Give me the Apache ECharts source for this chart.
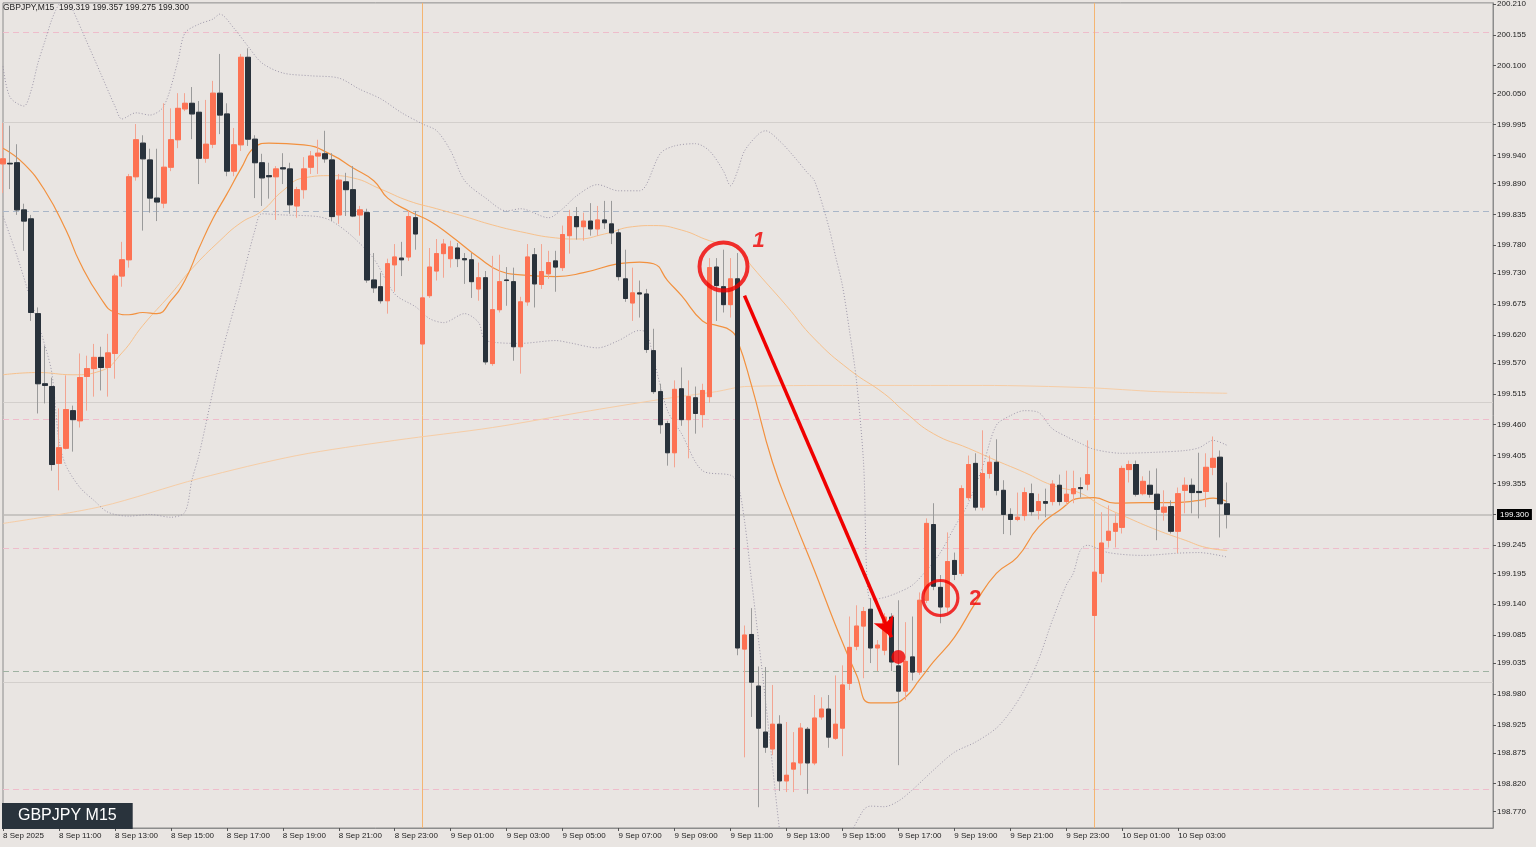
<!DOCTYPE html>
<html><head><meta charset="utf-8">
<script src="https://cdn.jsdelivr.net/npm/echarts@6/dist/echarts.min.js"></script>
<style>html,body{margin:0;padding:0;background:#e9e5e2;}#c{width:1536px;height:847px;}</style>
</head><body><div id="c"></div>
<script>
const symbolName = 'GBPJPY';
const timeframe = 'M15';
const totalSlots = 214; // bars incl. empty right-hand shift area

const opens = [199.925,199.926,199.927,199.843,199.827,199.658,199.533,199.528,199.391,199.418,
199.485,199.467,199.546,199.560,199.580,199.562,199.587,199.725,199.754,199.902,
199.962,199.932,199.864,199.855,199.919,199.968,200.023,200.033,200.017,199.935,
199.960,200.051,200.014,199.912,199.959,200.115,199.969,199.927,199.904,199.902,
199.918,199.916,199.850,199.879,199.919,199.939,199.943,199.932,199.834,199.893,
199.879,199.834,199.838,199.718,199.706,199.681,199.745,199.757,199.759,199.829,
199.604,199.690,199.734,199.765,199.756,199.775,199.756,199.754,199.702,199.722,
199.569,199.665,199.718,199.715,199.599,199.679,199.763,199.710,199.729,199.752,
199.740,199.797,199.831,199.813,199.823,199.809,199.825,199.818,199.802,199.720,
199.677,199.695,199.693,199.592,199.519,199.462,199.410,199.524,199.469,199.508,
199.478,199.510,199.741,199.706,199.674,199.720,199.060,199.086,198.994,198.912,
198.882,198.926,198.825,198.846,198.857,198.917,198.857,198.939,198.953,198.901,
198.919,198.999,199.065,199.101,199.131,199.062,199.058,199.117,199.030,198.985,
199.046,199.019,199.147,199.282,199.170,199.135,199.218,199.195,199.330,199.391,
199.313,199.373,199.393,199.343,199.300,199.291,199.298,199.337,199.307,199.323,
199.323,199.352,199.323,199.337,199.348,199.354,199.120,199.195,199.254,199.270,
199.277,199.380,199.389,199.337,199.352,199.336,199.304,199.314,199.270,199.343,
199.352,199.341,199.341,199.384,199.402,199.319];
const highs = [199.998,199.993,199.960,199.854,199.834,199.669,199.601,199.544,199.489,199.548,
199.494,199.587,199.583,199.604,199.599,199.622,199.729,199.786,199.907,199.996,
199.976,199.952,199.952,200.033,200.024,200.051,200.051,200.062,200.037,200.039,
200.073,200.121,200.033,199.989,200.121,200.131,199.976,199.943,199.927,199.921,
199.944,199.927,199.884,199.937,199.948,199.968,199.984,199.944,199.907,199.909,
199.921,199.850,199.845,199.766,199.731,199.756,199.782,199.786,199.841,199.841,
199.692,199.775,199.791,199.791,199.788,199.784,199.766,199.766,199.749,199.734,
199.761,199.763,199.741,199.740,199.688,199.782,199.775,199.782,199.770,199.770,
199.815,199.843,199.848,199.838,199.855,199.850,199.859,199.859,199.809,199.772,
199.740,199.717,199.702,199.631,199.533,199.467,199.539,199.562,199.539,199.528,
199.533,199.757,199.757,199.772,199.757,199.766,199.102,199.133,199.029,199.028,
198.996,198.942,198.930,198.912,198.928,198.921,198.978,198.974,198.978,199.013,
199.031,199.118,199.138,199.135,199.151,199.076,199.124,199.124,199.147,199.108,
199.118,199.161,199.293,199.320,199.192,199.268,199.232,199.352,199.405,199.409,
199.450,199.405,199.434,199.361,199.311,199.339,199.348,199.355,199.337,199.346,
199.361,199.371,199.378,199.378,199.366,199.432,199.236,199.304,199.316,199.302,
199.387,199.396,199.396,199.368,199.378,199.382,199.343,199.325,199.348,199.366,
199.364,199.410,199.409,199.439,199.414,199.357];
const lows = [199.873,199.880,199.834,199.770,199.645,199.480,199.498,199.378,199.343,199.416,
199.412,199.455,199.485,199.510,199.521,199.510,199.542,199.706,199.740,199.895,
199.806,199.838,199.823,199.846,199.912,199.953,200.019,199.969,199.889,199.927,
199.953,199.978,199.903,199.903,199.948,199.957,199.864,199.850,199.863,199.825,
199.889,199.836,199.829,199.863,199.907,199.907,199.927,199.823,199.818,199.832,
199.830,199.797,199.713,199.695,199.676,199.658,199.697,199.725,199.752,199.772,
199.601,199.686,199.717,199.722,199.740,199.741,199.711,199.686,199.681,199.567,
199.565,199.660,199.672,199.574,199.551,199.672,199.669,199.702,199.720,199.697,
199.734,199.765,199.790,199.788,199.797,199.797,199.809,199.782,199.717,199.679,
199.645,199.651,199.588,199.515,199.444,199.387,199.384,199.458,199.400,199.444,
199.455,199.499,199.645,199.660,199.651,199.049,198.867,198.939,198.778,198.875,
198.871,198.807,198.805,198.805,198.835,198.802,198.853,198.934,198.884,198.898,
198.869,198.987,199.058,199.008,199.035,199.021,199.049,199.021,198.853,198.969,
199.004,199.014,199.142,199.165,199.106,199.126,199.183,199.190,199.325,199.307,
199.307,199.364,199.334,199.265,199.263,199.288,199.289,199.298,199.291,199.295,
199.316,199.316,199.316,199.320,199.330,199.343,199.076,199.179,199.241,199.241,
199.266,199.357,199.332,199.334,199.330,199.254,199.289,199.266,199.231,199.302,
199.302,199.293,199.313,199.370,199.259,199.275];
const closes = [199.934,199.925,199.843,199.823,199.660,199.533,199.530,199.389,199.419,199.487,
199.469,199.544,199.560,199.580,199.562,199.588,199.725,199.754,199.902,199.968,
199.934,199.864,199.857,199.919,199.968,200.024,200.033,200.014,199.935,199.960,
200.051,200.012,199.912,199.959,200.115,199.969,199.927,199.900,199.902,199.916,
199.916,199.852,199.879,199.916,199.939,199.944,199.934,199.831,199.896,199.879,
199.832,199.843,199.718,199.704,199.681,199.747,199.759,199.754,199.831,199.800,
199.686,199.741,199.765,199.782,199.777,199.756,199.754,199.715,199.722,199.572,
199.665,199.715,199.717,199.599,199.679,199.759,199.711,199.733,199.749,199.741,
199.799,199.831,199.813,199.823,199.809,199.825,199.820,199.802,199.724,199.685,
199.695,199.693,199.594,199.519,199.460,199.410,199.523,199.469,199.510,199.480,
199.521,199.740,199.708,199.674,199.720,199.062,199.085,199.001,198.919,198.885,
198.926,198.825,198.835,198.857,198.919,198.857,198.937,198.953,198.903,198.926,
198.996,199.063,199.101,199.127,199.062,199.067,199.117,199.037,198.985,199.038,
199.019,199.147,199.284,199.172,199.135,199.216,199.193,199.346,199.389,199.313,
199.373,199.393,199.343,199.300,199.291,199.295,199.339,199.305,199.323,199.320,
199.354,199.323,199.336,199.346,199.346,199.371,199.197,199.249,199.270,199.284,
199.382,199.389,199.336,199.359,199.336,199.309,199.313,199.270,199.337,199.352,
199.339,199.339,199.384,199.400,199.319,199.300];

// indicator lines: [bar index, price]
const maFast = [[0,199.953],[3,199.925],[6,199.877],[9,199.807],[11,199.749],[14,199.685],[16,199.660],[18,199.656],[20,199.660],[22,199.658],[24,199.681],[26,199.717],[28,199.774],[30,199.827],[32,199.871],[34,199.916],[36,199.955],[38,199.962],[43,199.959],[47,199.941],[50,199.918],[53,199.895],[55,199.864],[58,199.841],[61,199.823],[64,199.797],[68,199.758],[71,199.734],[74,199.727],[79,199.724],[83,199.731],[88,199.747],[91,199.750],[93,199.747],[95,199.717],[97,199.690],[100,199.645],[102,199.637],[104,199.628],[105,199.610],[107,199.530],[110,199.393],[113,199.293],[116,199.200],[119,199.103],[122,199.014],[124,198.964],[127,198.964],[129,198.974],[131,199.005],[133,199.037],[136,199.081],[139,199.142],[142,199.195],[145,199.224],[148,199.277],[151,199.307],[154,199.329],[156,199.330],[159,199.320],[163,199.321],[167,199.321],[171,199.325],[173,199.329],[175,199.323]];
const maSlow = [[0,199.549],[5,199.553],[10,199.549],[14,199.556],[17,199.588],[20,199.637],[24,199.693],[27,199.738],[31,199.788],[34,199.820],[37,199.841],[40,199.877],[43,199.900],[47,199.904],[50,199.900],[54,199.880],[58,199.859],[62,199.845],[66,199.831],[70,199.816],[74,199.804],[79,199.793],[82,199.791],[86,199.800],[90,199.813],[93,199.815],[97,199.807],[101,199.788],[105,199.774],[107,199.743],[112,199.672],[116,199.613],[121,199.558],[126,199.515],[129,199.482],[133,199.444],[138,199.418],[142,199.396],[146,199.375],[150,199.352],[154,199.338],[157,199.316],[161,199.293],[165,199.272],[169,199.254],[172,199.241],[175,199.236]];
const maLong = [[0,199.284],[14,199.314],[28,199.364],[42,199.405],[56,199.432],[70,199.455],[84,199.485],[95,199.507],[102,199.519],[106,199.528],[120,199.530],[140,199.530],[155,199.526],[165,199.519],[175,199.516]];
const bbUpper = [[0,200.099],[1,200.044],[3,200.028],[4,200.055],[5,200.105],[6,200.144],[7,200.183],[8,200.210],[9,200.226],[10,200.199],[12,200.142],[14,200.085],[16,200.028],[17,200.005],[19,200.016],[21,200.012],[23,200.028],[25,200.108],[26,200.158],[28,200.174],[30,200.183],[31,200.192],[33,200.167],[35,200.135],[37,200.105],[40,200.087],[44,200.082],[48,200.078],[51,200.058],[54,200.041],[57,200.016],[60,199.996],[62,199.984],[64,199.948],[66,199.895],[69,199.864],[72,199.841],[74,199.845],[78,199.829],[80,199.845],[82,199.868],[85,199.888],[88,199.877],[91,199.877],[94,199.944],[96,199.957],[99,199.961],[101,199.948],[103,199.912],[104,199.886],[105,199.912],[106,199.948],[108,199.978],[109,199.984],[111,199.966],[113,199.939],[115,199.909],[116,199.895],[118,199.815],[119,199.761],[120,199.708],[121,199.628],[122,199.539],[123,199.396],[124,199.147],[126,199.152],[128,199.161],[130,199.174],[132,199.200],[134,199.232],[136,199.277],[138,199.320],[140,199.384],[142,199.459],[144,199.476],[146,199.485],[148,199.482],[150,199.453],[152,199.439],[154,199.427],[156,199.416],[160,199.409],[165,199.411],[169,199.414],[171,199.419],[173,199.432],[175,199.423]];
const bbLower = [[0,199.832],[2,199.761],[4,199.681],[6,199.601],[7,199.551],[8,199.432],[9,199.387],[11,199.348],[13,199.325],[15,199.304],[18,199.297],[21,199.300],[24,199.295],[26,199.304],[27,199.361],[28,199.405],[31,199.574],[34,199.711],[36,199.806],[37,199.836],[40,199.834],[45,199.831],[47,199.823],[50,199.795],[53,199.756],[56,199.693],[59,199.670],[61,199.649],[63,199.642],[66,199.658],[68,199.642],[69,199.610],[74,199.605],[79,199.610],[81,199.606],[85,199.597],[88,199.610],[91,199.628],[92,199.624],[93,199.578],[95,199.485],[97,199.444],[100,199.378],[104,199.370],[105,199.357],[106,199.289],[107,199.183],[109,198.969],[111,198.738],[112,198.649],[115,198.613],[117,198.631],[120,198.702],[123,198.773],[124,198.780],[126,198.779],[128,198.789],[130,198.809],[133,198.844],[136,198.876],[139,198.894],[142,198.919],[144,198.948],[146,198.987],[148,199.040],[150,199.111],[152,199.174],[153,199.195],[154,199.236],[155,199.245],[158,199.232],[163,199.227],[168,199.231],[171,199.232],[175,199.224]];

const xTickLabels = ['8 Sep 2025','8 Sep 11:00','8 Sep 13:00','8 Sep 15:00','8 Sep 17:00','8 Sep 19:00','8 Sep 21:00','8 Sep 23:00','9 Sep 01:00','9 Sep 03:00','9 Sep 05:00','9 Sep 07:00','9 Sep 09:00','9 Sep 11:00','9 Sep 13:00','9 Sep 15:00','9 Sep 17:00','9 Sep 19:00','9 Sep 21:00','9 Sep 23:00','10 Sep 01:00','10 Sep 03:00'];
const yTickLabels = [200.210,200.155,200.100,200.050,199.995,199.940,199.890,199.835,199.780,199.730,199.675,199.620,199.570,199.515,199.460,199.405,199.355,199.300,199.245,199.195,199.140,199.085,199.035,198.980,198.925,198.875,198.820,198.770];
const yMin = 198.741, yMax = 200.212;

const pinkLevels = [200.163, 199.465, 199.241, 198.811];
const blueLevels = [199.840];
const greenLevels = [199.017];
const grayLevels = [200.000, 199.500, 199.000];
const daySeparatorBars = [60, 156];

const circleMarks = [[103, 199.742], [134, 199.151]];
const label1 = [108, 199.788], label2 = [139, 199.149];
const arrowFrom = [106, 199.690], arrowTo = [127, 199.081];
const dotMark = [128, 199.046];

// ---- build
const categories = Array.from({length: totalSlots}, (_, i) => String(i));
const n = closes.length;
const lastClose = closes[n - 1];
const fullOHLC = opens.map((o, i) => [o, closes[i], lows[i], highs[i]]);
const bodyOHLC = opens.map((o, i) => [o, closes[i], Math.min(o, closes[i]), Math.max(o, closes[i])]);

const hl = (vals, color, type, width) => vals.map(v => ({yAxis: v, lineStyle: {color, type, width}}));
const lineData = [].concat(
  hl(pinkLevels, '#efbccb', [6, 4], 1.2),
  hl(blueLevels, '#a9b6c8', [6, 4], 1.2),
  hl(greenLevels, '#9fb2a2', [6, 4], 1.2),
  hl(grayLevels, '#d3cfcc', 'solid', 1.2),
  [{yAxis: lastClose, lineStyle: {color: '#bdbab7', type: 'solid', width: 1.5}}],
  daySeparatorBars.map(b => ({xAxis: b, lineStyle: {color: '#f4b572', type: 'solid', width: 1}}))
);

const FONT = 'Liberation Sans';
const chart = echarts.init(document.getElementById('c'), null, {renderer: 'canvas'});
const lineSeries = (data, color, width, type, smooth, z) => ({
  type: 'line', data, symbol: 'none', smooth, silent: true, z,
  lineStyle: {color, width, type}
});
const numberSeries = (pt, txt, style) => ({
  type: 'scatter', silent: true, z: 7, symbolSize: 1, data: [pt],
  itemStyle: {color: 'rgba(0,0,0,0)'},
  label: {show: true, position: 'inside', formatter: txt, color: '#f00000',
    fontFamily: FONT, fontSize: 22, fontWeight: 'bold', fontStyle: style}
});

chart.setOption({
  animation: false,
  backgroundColor: '#e9e5e2',
  title: [
    {text: symbolName + ',' + timeframe + '  ' + [opens[n-1], highs[n-1], lows[n-1], closes[n-1]].map(v => v.toFixed(3)).join(' '),
     left: 3, top: 3, padding: 0, textStyle: {fontFamily: FONT, fontSize: 8.5, fontWeight: 'normal', color: '#222'}},
    {text: symbolName + ' ' + timeframe, left: 2, top: 803, padding: [4, 16, 4, 16], backgroundColor: '#29333c',
     textStyle: {fontFamily: FONT, fontSize: 16, lineHeight: 18, fontWeight: 'normal', color: '#ffffff'}}
  ],
  grid: {left: 1, right: 43, top: 2, bottom: 19, show: true, borderColor: '#8c8c8c', borderWidth: 1, backgroundColor: 'transparent'},
  xAxis: {
    type: 'category', data: categories, boundaryGap: false,
    axisLine: {lineStyle: {color: '#8c8c8c', width: 1}},
    axisTick: {show: true, length: 3, lineStyle: {color: '#555'},
      interval: (i) => i % 8 === 0 && i / 8 < xTickLabels.length},
    axisLabel: {
      interval: (i) => i % 8 === 0 && i / 8 < xTickLabels.length,
      formatter: (v, i) => (i % 8 === 0 && xTickLabels[i / 8]) ? xTickLabels[i / 8] : '',
      align: 'left', margin: 4, fontFamily: FONT, fontSize: 8, color: '#222'
    },
    splitLine: {show: false}
  },
  yAxis: {
    type: 'value', position: 'right', min: yMin, max: yMax, scale: true,
    axisLine: {show: true, lineStyle: {color: '#8c8c8c', width: 1}},
    axisTick: {show: true, length: 3, customValues: yTickLabels, lineStyle: {color: '#555'}},
    axisLabel: {
      customValues: yTickLabels, margin: 4, fontFamily: FONT, fontSize: 8, color: '#222',
      formatter: (v) => Math.abs(v - lastClose) < 1e-6 ? '{cur|' + v.toFixed(3) + '}' : v.toFixed(3),
      rich: {cur: {backgroundColor: '#000', color: '#fff', padding: [2, 3, 1, 3], fontFamily: FONT, fontSize: 8}}
    },
    splitLine: {show: false}
  },
  series: [
    {
      type: 'candlestick', name: 'wicks', data: fullOHLC, barWidth: 5, silent: true, z: 3,
      itemStyle: {color: 'rgba(0,0,0,0)', color0: 'rgba(0,0,0,0)', borderColor: '#f3a592', borderColor0: '#9a9a9a', borderWidth: 1},
      markLine: {silent: true, symbol: 'none', label: {show: false}, animation: false, z: 1, data: lineData}
    },
    {
      type: 'candlestick', name: 'bodies', data: bodyOHLC, barWidth: 5, silent: true, z: 4,
      itemStyle: {color: '#fd7253', color0: '#29323b', borderColor: '#fd7253', borderColor0: '#29323b', borderWidth: 1}
    },
    lineSeries(maLong, '#f6cda6', 1, 'solid', 0.3, 2),
    lineSeries(maSlow, '#f7c18c', 1, 'solid', true, 2),
    lineSeries(maFast, '#f2913f', 1.2, 'solid', true, 2),
    lineSeries(bbUpper, '#9d97a9', 1, [1, 2], 0.3, 2),
    lineSeries(bbLower, '#9d97a9', 1, [1, 2], 0.3, 2),
    {
      type: 'line', data: [], silent: true, z: 6,
      markLine: {silent: true, symbol: ['none', 'arrow'], symbolSize: [16, 20], label: {show: false}, animation: false,
        lineStyle: {color: '#f00000', width: 3.5, type: 'solid'},
        data: [[{coord: arrowFrom}, {coord: arrowTo}]]}
    },
    {
      type: 'scatter', silent: true, z: 7,
      data: circleMarks.map((c, k) => ({value: c, symbolSize: k === 0 ? 48 : 35,
        itemStyle: {borderWidth: k === 0 ? 4 : 3.2}})),
      itemStyle: {color: 'rgba(0,0,0,0)', borderColor: '#f00000'}
    },
    {
      type: 'scatter', silent: true, z: 7, symbolSize: 14,
      data: [dotMark], itemStyle: {color: '#f00000'}
    },
    numberSeries(label1, '1', 'italic'),
    numberSeries(label2, '2', 'normal')
  ]
});
</script>
</body></html>
